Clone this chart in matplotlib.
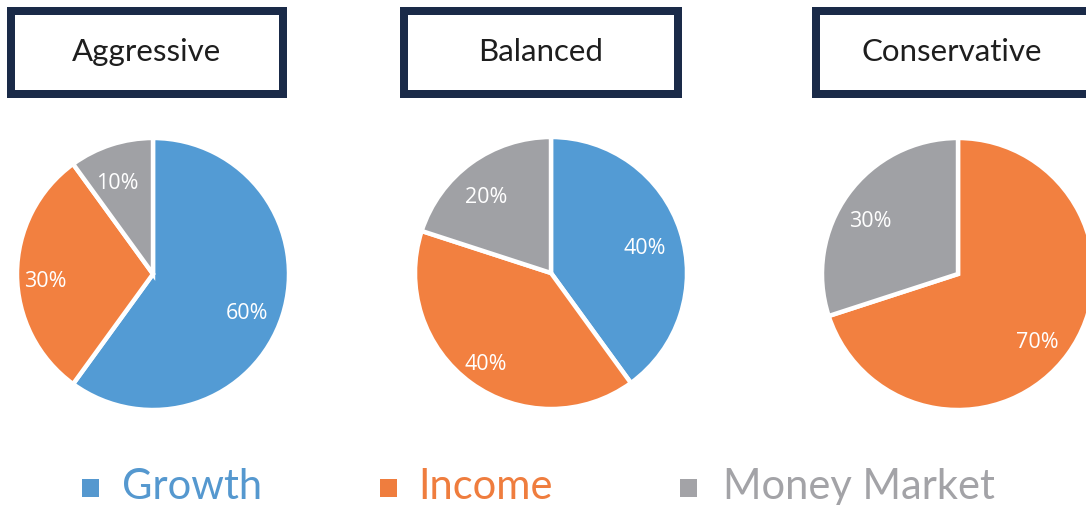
import matplotlib.pyplot as plt
from matplotlib.patches import Rectangle

W, H = 1086, 506

portfolios = ["Aggressive", "Balanced", "Conservative"]
categories = ["Growth", "Income", "Money Market"]
growth = [60, 40, 0]
income = [30, 40, 70]
money_market = [10, 20, 30]

colors = ["#539bd4", "#f28040", "#a0a1a5"]
legend_colors = ["#5598cf", "#ef7d3e", "#a3a3a7"]
navy = "#1a2a48"

# pie centres / radius in pixels
centers = [(153, 275), (551, 274), (958, 275)]
radius = 136
# title boxes (outer edges, pixels)
boxes = [(7, 287), (400, 682), (812, 1094)]
box_top, box_bot = 8, 99
border = 8

fig = plt.figure(figsize=(W / 100, H / 100), dpi=100)

for i, name in enumerate(portfolios):
    cx, cy = centers[i]
    ax = fig.add_axes([(cx - radius) / W, (H - cy - radius) / H,
                       2 * radius / W, 2 * radius / H])
    vals = [growth[i], income[i], money_market[i]]
    keep = [j for j, v in enumerate(vals) if v > 0]
    wedges, texts, autotexts = ax.pie(
        [vals[j] for j in keep], colors=[colors[j] for j in keep],
        startangle=90, counterclock=False, radius=1,
        autopct="%d%%", pctdistance=0.76,
        wedgeprops=dict(edgecolor="white", linewidth=3.2),
        textprops=dict(color="white", fontsize=15.5, family="Open Sans"))
    # labels sit a little lower in the original
    for t in autotexts:
        x, y = t.get_position()
        t.set_position((x - 0.03, y - 0.05))
    ax.set_xlim(-1, 1)
    ax.set_ylim(-1, 1)
    ax.axis("off")

    x0, x1 = boxes[i]
    h = border / 2
    fig.add_artist(Rectangle(((x0 + h) / W, (H - box_bot + h) / H),
                             (x1 - x0 - border) / W, (box_bot - box_top - border) / H,
                             transform=fig.transFigure, facecolor="white",
                             edgecolor=navy, linewidth=border * 0.72))
    fig.text(((x0 + x1) / 2 if i < 2 else 952) / W, (H - 52) / H, name,
             ha="center", va="center", fontsize=22.5, family="Lato", color="#1e1e1e")

# legend
sq_x = [82, 380, 680]
txt_x = [122, 418, 723]
for j, cat in enumerate(categories):
    fig.add_artist(Rectangle((sq_x[j] / W, (H - 498) / H), 17 / W, 18 / H,
                             transform=fig.transFigure, facecolor=legend_colors[j],
                             edgecolor="none"))
    fig.text(txt_x[j] / W, (H - 487) / H, cat, ha="left", va="center",
             fontsize=30, family="Lato", color=legend_colors[j])

fig.savefig("out.png", dpi=100)
